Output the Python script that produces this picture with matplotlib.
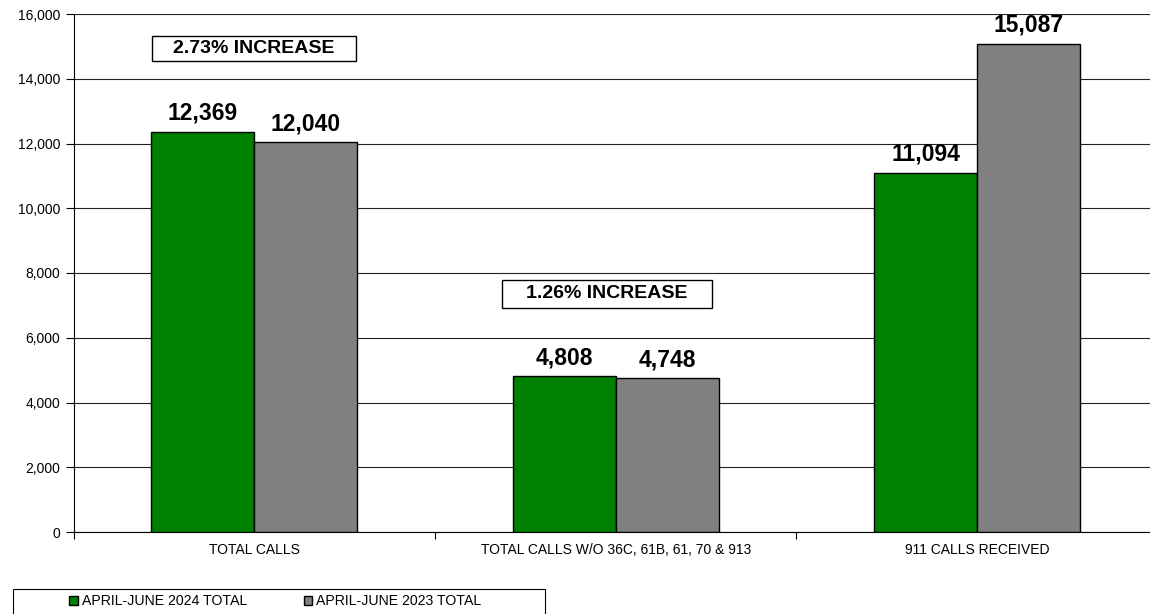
import matplotlib.pyplot as plt
from matplotlib.patches import Rectangle
import numpy as np

plt.rcParams['font.family'] = ['Liberation Sans', 'DejaVu Sans']

categories = ['TOTAL CALLS', 'TOTAL CALLS W/O 36C, 61B, 61, 70 & 913', '911 CALLS RECEIVED']
calls_2024 = [12369, 4808, 11094]
calls_2023 = [12040, 4748, 15087]
series_names = ['APRIL-JUNE 2024 TOTAL', 'APRIL-JUNE 2023 TOTAL']
notes = ['2.73% INCREASE', '1.26% INCREASE']

fig = plt.figure(figsize=(11.5, 6.14), dpi=100)
ax = fig.add_axes([73.5 / 1150, 82 / 614, 1084.5 / 1150, 518 / 614])

x = np.arange(len(categories))
w = 0.285
b1 = ax.bar(x - w / 2, calls_2024, w, color='#008000', edgecolor='black', linewidth=1, zorder=3,
            label=series_names[0])
b2 = ax.bar(x + w / 2, calls_2023, w, color='#808080', edgecolor='black', linewidth=1, zorder=3,
            label=series_names[1])

for bars in (b1, b2):
    for r in bars:
        ax.text(r.get_x() + r.get_width() / 2, r.get_height() + 370, f'{int(r.get_height()):,}',
                ha='center', va='baseline', fontsize=16.5, fontweight='bold')

ax.set_xlim(-0.5, 2.5)
ax.set_ylim(0, 16000)
ax.set_yticks(np.arange(0, 16001, 2000))
ax.set_yticklabels([f'{v:,}' for v in range(0, 16001, 2000)], fontsize=10)
ax.yaxis.grid(True, color='#222222', linewidth=0.8, zorder=0)
ax.set_xticks([-0.5, 0.5, 1.5, 2.5])
ax.set_xticklabels([])
ax.set_xticks(x, minor=True)
ax.set_xticklabels(categories, minor=True, fontsize=10)
ax.tick_params(axis='x', which='minor', length=0, pad=8)
ax.tick_params(axis='x', which='major', length=5, direction='out')
ax.tick_params(axis='y', length=6, direction='out')
for s in ('top', 'right'):
    ax.spines[s].set_visible(False)

# note boxes (axes fraction)
for (x0, x1, y0, y1), note in zip([(152, 356, 36, 61), (502, 712, 280, 308)], notes):
    fx0 = (x0 - 73.5) / 1084.5
    fx1 = (x1 - 73.5) / 1084.5
    fy0 = (532 - y1) / 518
    fy1 = (532 - y0) / 518
    ax.add_patch(Rectangle((fx0, fy0), fx1 - fx0, fy1 - fy0, transform=ax.transAxes,
                           facecolor='white', edgecolor='black', linewidth=1, zorder=4))
    ax.text((fx0 + fx1) / 2, (fy0 + fy1) / 2, note, transform=ax.transAxes, ha='center',
            va='center', fontsize=14, fontweight='bold', zorder=5)

# legend frame
fig.patches.append(Rectangle((13 / 1150, -0.05), 532 / 1150, (614 - 589) / 614 + 0.05,
                             transform=fig.transFigure, facecolor='white', edgecolor='black',
                             linewidth=0.8))
leg = fig.legend(handles=[b1, b2], labels=series_names, loc='center left', ncol=2,
                 bbox_to_anchor=(69 / 1150, 1 - 601 / 614), fontsize=10.2, frameon=False,
                 handlelength=0.6, handleheight=0.6, handletextpad=0.3, borderpad=0,
                 borderaxespad=0, columnspacing=4.0)

fig.savefig('out.png', dpi=100)
